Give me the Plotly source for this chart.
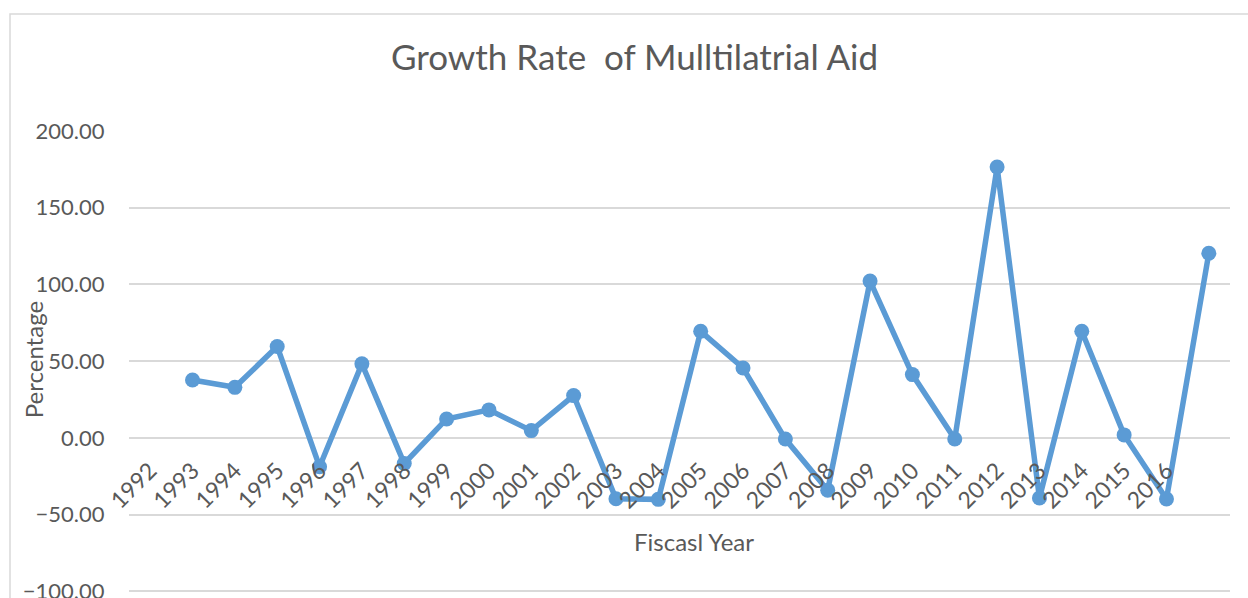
import plotly.graph_objects as go

# Fiscal years on the category axis (the final slot carries no label)
years = list(range(1993, 2018))
growth_rate = [37.8, 33.0, 59.6, -18.7, 48.3, -16.6, 12.4, 18.3, 4.8, 27.6,
               -39.6, -40.0, 69.5, 45.6, -0.7, -34.0, 102.2, 41.3, -0.7, 176.5,
               -39.1, 69.5, 2.0, -39.8, 120.4]
tick_years = list(range(1992, 2017))
tick_labels = [str(y) for y in tick_years]
y_ticks = [-100, -50, 0, 50, 100, 150, 200]

W, H = 1248, 598
Y_LO, Y_HI = -101, 200
UNIT = 460 / 300            # pixels per percentage point
ML, MR, MT = 129, 18, 131
PW = W - ML - MR
PH = (Y_HI - Y_LO) * UNIT
MB = H - MT - PH

FONT = "Lato"
GREY = "#595959"
GRID = "#D9D9D9"
BLUE = "#5B9BD5"


def px_x(p):
    return (p - ML) / PW


def px_y(p):
    return (H - MB - p) / PH


fig = go.Figure()
fig.add_trace(go.Scatter(
    x=years, y=growth_rate, mode="lines+markers",
    line=dict(color=BLUE, width=5.5),
    marker=dict(color=BLUE, size=15),
    showlegend=False, hoverinfo="x+y",
))

fig.update_layout(
    width=W, height=H,
    margin=dict(l=ML, r=MR, t=MT, b=MB),
    paper_bgcolor="white", plot_bgcolor="white",
    font=dict(family=FONT, color=GREY),
    title=dict(text="Growth Rate  of Mulltilatrial Aid",
               font=dict(family=FONT, size=35, color=GREY),
               x=634.5 / W, xanchor="center", xref="container",
               y=1 - 58 / H, yanchor="middle", yref="container"),
    xaxis=dict(
        range=[1991.5, 2017.5], tickvals=tick_years, ticktext=tick_labels,
        tickangle=-45, tickfont=dict(family=FONT, size=23, color=GREY),
        showgrid=False, zeroline=False, showline=False,
        anchor="free", position=(0 - Y_LO) / (Y_HI - Y_LO),
        ticks="outside", ticklen=9, tickcolor="rgba(0,0,0,0)",
        automargin=False,
    ),
    yaxis=dict(
        range=[Y_LO, Y_HI], tickvals=y_ticks, tickformat=".2f",
        tickfont=dict(family=FONT, size=22, color=GREY),
        showgrid=True, gridcolor=GRID, gridwidth=1.5,
        zeroline=True, zerolinecolor=GRID, zerolinewidth=1.5,
        showline=False, ticks="outside", ticklen=19,
        tickcolor="rgba(0,0,0,0)",
        automargin=False, ticklabeloverflow="allow",
    ),
    annotations=[
        dict(text="Fiscasl Year", xref="paper", yref="paper",
             x=px_x(693.5), y=px_y(541), xanchor="center", yanchor="middle",
             showarrow=False, font=dict(family=FONT, size=24, color=GREY)),
        dict(text="Percentage", xref="paper", yref="paper", textangle=-90,
             x=px_x(33), y=px_y(360), xanchor="center", yanchor="middle",
             showarrow=False, font=dict(family=FONT, size=24, color=GREY)),
    ],
    shapes=[
        dict(type="rect", xref="paper", yref="paper",
             x0=px_x(10), x1=px_x(1262), y0=px_y(620), y1=px_y(14),
             line=dict(color=GRID, width=1.5), fillcolor="rgba(0,0,0,0)",
             layer="below"),
    ],
)

fig.write_html("out.html")
